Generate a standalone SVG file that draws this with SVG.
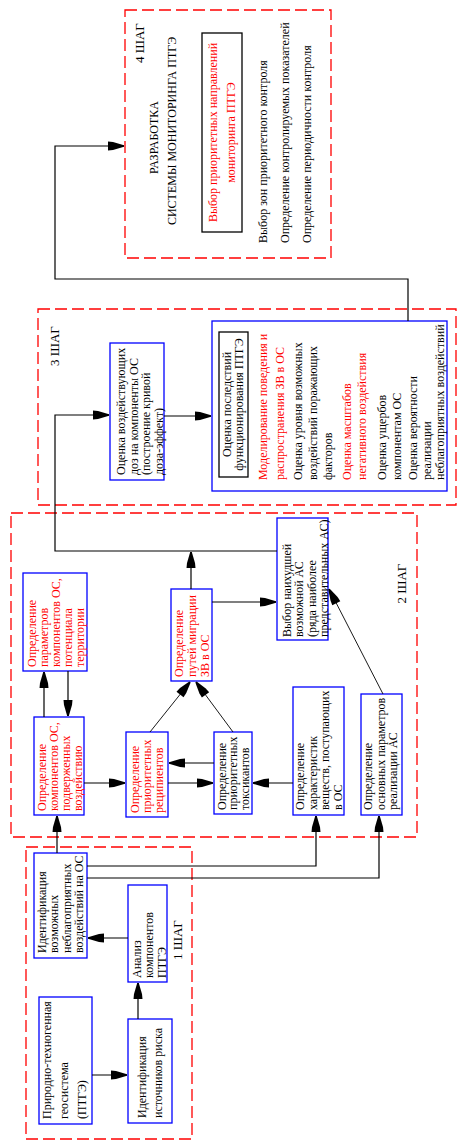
<svg xmlns="http://www.w3.org/2000/svg" width="465" height="1145" viewBox="0 0 465 1145">
<defs>
<marker id="ah" markerUnits="userSpaceOnUse" markerWidth="18" markerHeight="10" viewBox="-16 -5 17 10" refX="0" refY="0" orient="auto">
<path d="M-16,-4.5 L-11,-4 L0,-0.8 L0,0.8 L-11,4 L-16,4.5 Z" fill="#000"/>
</marker>
<style>
text{font-family:"Liberation Serif","Times New Roman",serif;font-size:12px;fill:#000}
.r{fill:#ff0000}
.m{text-anchor:middle}
.st{font-size:13px}
.step{fill:none;stroke:#ff0000;stroke-width:1.3;stroke-dasharray:12,5}
.bb{fill:#fff;stroke:#0000ff;stroke-width:1.3}
.kb{fill:#fff;stroke:#000;stroke-width:1.3}
.c{fill:none;stroke:#000;stroke-width:1.2;marker-end:url(#ah)}
.cn{fill:none;stroke:#000;stroke-width:1.2}
.ct{fill:none;stroke:#000;stroke-width:0.9;marker-end:url(#ah)}
</style>
</defs>
<rect width="465" height="1145" fill="#fff"/>

<g id="step4">
<rect class="step" x="125" y="10" width="206" height="248"/>
<text class="st m" transform="translate(144,43) rotate(-90)">4 ШАГ</text>
<text class="m" transform="translate(158,137.5) rotate(-90)">РАЗРАБОТКА</text>
<text class="m" transform="translate(176,131) rotate(-90)">СИСТЕМЫ МОНИТОРИНГА ПТГЭ</text>
<rect class="kb" x="202" y="33" width="40" height="199"/>
<text class="r m" transform="translate(217,132.5) rotate(-90)"><tspan x="0" y="0">Выбор приоритетных направлений</tspan><tspan x="0" y="18">мониторинга ПТГЭ</tspan></text>
<text transform="translate(267,243) rotate(-90)"><tspan x="0" y="0">Выбор зон приоритетного контроля</tspan><tspan x="0" y="22">Определение контролируемых показателей</tspan><tspan x="0" y="44">Определение периодичности контроля</tspan></text>
</g>

<g id="step3">
<rect class="step" x="38" y="309" width="418" height="196"/>
<text class="st m" transform="translate(59,346) rotate(-90)">3 ШАГ</text>
</g>

<g id="dose">
<rect class="bb" x="110" y="343" width="54" height="137"/>
<text transform="translate(125,475) rotate(-90)"><tspan x="0" y="0">Оценка воздействующих</tspan><tspan x="0" y="12.5">доз на компоненты ОС</tspan><tspan x="0" y="25">(построение кривой</tspan><tspan x="0" y="37.5">доза-эффект)</tspan></text>
</g>

<g id="consequences">
<rect class="bb" x="212" y="321" width="235" height="170"/>
<rect class="kb" x="219" y="332" width="29" height="145"/>
<text class="m" transform="translate(230.5,404.5) rotate(-90)"><tspan x="0" y="0">Оценка последствий</tspan><tspan x="0" y="12.5">функционирования  ПТГЭ</tspan></text>
<text class="r" transform="translate(267,480) rotate(-90)"><tspan x="0" y="0">Моделирование поведения и</tspan><tspan x="0" y="17">распространения ЗВ в ОС</tspan></text>
<text transform="translate(302,480) rotate(-90)"><tspan x="0" y="0">Оценка уровня возможных</tspan><tspan x="0" y="15">воздействий поражающих</tspan><tspan x="0" y="30">факторов</tspan></text>
<text class="r" transform="translate(350.5,480) rotate(-90)"><tspan x="0" y="0">Оценка масштабов</tspan><tspan x="0" y="15">негативного воздействия</tspan></text>
<text transform="translate(385.5,480) rotate(-90)"><tspan x="0" y="0">Оценка ущербов</tspan><tspan x="0" y="15">компонентам ОС</tspan></text>
<text transform="translate(417,480) rotate(-90)"><tspan x="0" y="0">Оценка вероятности</tspan><tspan x="0" y="13.5">реализации</tspan><tspan x="0" y="27">неблагоприятных воздействий</tspan></text>
</g>

<g id="step2">
<rect class="step" x="11" y="513" width="406" height="324"/>
<text class="st m" transform="translate(406,583.5) rotate(-90)">2 ШАГ</text>
</g>

<g id="worst">
<rect class="bb" x="277" y="518" width="51" height="122"/>
<text transform="translate(290.5,637) rotate(-90)"><tspan x="0" y="0">Выбор наихудшей</tspan><tspan x="0" y="12.5">возможной АС</tspan><tspan x="0" y="25">(ряда наиболее</tspan><tspan x="0" y="37.5">представительных АС)</tspan></text>
</g>

<g id="params">
<rect class="bb" x="23" y="573" width="64" height="98"/>
<text class="r" transform="translate(35.5,667) rotate(-90)"><tspan x="0" y="0">Определение</tspan><tspan x="0" y="12">параметров</tspan><tspan x="0" y="24">компонентов ОС,</tspan><tspan x="0" y="36">потенциала</tspan><tspan x="0" y="48">территории</tspan></text>
</g>

<g id="components">
<rect class="bb" x="34" y="717" width="50" height="98"/>
<text class="r" transform="translate(46,811) rotate(-90)"><tspan x="0" y="0">Определение</tspan><tspan x="0" y="12">компонентов ОС,</tspan><tspan x="0" y="24">подверженных</tspan><tspan x="0" y="36">воздействию</tspan></text>
</g>

<g id="recipients">
<rect class="bb" x="126" y="732" width="42" height="85"/>
<text class="r" transform="translate(139,813) rotate(-90)"><tspan x="0" y="0">Определение</tspan><tspan x="0" y="12">приоритетных</tspan><tspan x="0" y="24">реципиентов</tspan></text>
</g>

<g id="toxicants">
<rect class="bb" x="214" y="732" width="38" height="82"/>
<text transform="translate(225.5,810) rotate(-90)"><tspan x="0" y="0">Определение</tspan><tspan x="0" y="11.5">приоритетных</tspan><tspan x="0" y="23">токсикантов</tspan></text>
</g>

<g id="migration">
<rect class="bb" x="171" y="589" width="41" height="92"/>
<text class="r" transform="translate(183,677) rotate(-90)"><tspan x="0" y="0">Определение</tspan><tspan x="0" y="13">путей миграции</tspan><tspan x="0" y="26">ЗВ в ОС</tspan></text>
</g>

<g id="substances">
<rect class="bb" x="293" y="687" width="51" height="128"/>
<text transform="translate(304,810) rotate(-90)"><tspan x="0" y="0">Определение</tspan><tspan x="0" y="12.5">характеристик</tspan><tspan x="0" y="25">веществ, поступающих</tspan><tspan x="0" y="37.5">в ОС</tspan></text>
</g>

<g id="asparams">
<rect class="bb" x="361" y="694" width="41" height="121"/>
<text transform="translate(372,810) rotate(-90)"><tspan x="0" y="0">Определение</tspan><tspan x="0" y="12.5">основных параметров</tspan><tspan x="0" y="25">реализации АС</tspan></text>
</g>

<g id="step1">
<rect class="step" x="26" y="847" width="166" height="292"/>
<text class="st m" transform="translate(182,940) rotate(-90)">1 ШАГ</text>
</g>

<g id="identify-impacts">
<rect class="bb" x="34" y="853" width="53" height="105"/>
<text transform="translate(45.5,953) rotate(-90)"><tspan x="0" y="0">Идентификация</tspan><tspan x="0" y="12.5">возможных</tspan><tspan x="0" y="25">неблагоприятных</tspan><tspan x="0" y="37.5">воздействий на ОС</tspan></text>
</g>

<g id="analysis">
<rect class="bb" x="128" y="885" width="39" height="97"/>
<text transform="translate(140.5,978) rotate(-90)"><tspan x="0" y="0">Анализ</tspan><tspan x="0" y="12.5">компонентов</tspan><tspan x="0" y="25">ПТГЭ</tspan></text>
</g>

<g id="ptge">
<rect class="bb" x="39" y="997" width="53" height="127"/>
<text transform="translate(50.5,1119) rotate(-90)"><tspan x="0" y="0">Природно-техногенная</tspan><tspan x="0" y="17.5">геосистема</tspan><tspan x="0" y="35">(ПТГЭ)</tspan></text>
</g>

<g id="sources">
<rect class="bb" x="128" y="1019" width="44" height="104"/>
<text transform="translate(145.5,1118) rotate(-90)"><tspan x="0" y="0">Идентификация</tspan><tspan x="0" y="16">источников риска</tspan></text>
</g>

<g id="connectors">
<path class="c" d="M408,321 V279 H55 V146 H124"/>
<path class="c" d="M277,551 H55 V415 H109"/>
<path class="c" d="M191,589 V552"/>
<path class="c" d="M164,416 H211"/>
<path class="c" d="M44,717 V672"/>
<path class="c" d="M68,671 V716"/>
<path class="c" d="M84,783 H125"/>
<path class="c" d="M214,763 H169"/>
<path class="c" d="M168,783 H213"/>
<path class="c" d="M293,783 H253"/>
<path class="ct" d="M150,732 L190,682"/>
<path class="ct" d="M233,732 L196,682"/>
<path class="c" d="M212,602 H276"/>
<path class="ct" d="M383,694 L329,589"/>
<path class="c" d="M57,853 V816"/>
<path class="c" d="M87,866 H316 V816"/>
<path class="c" d="M87,878 H379 V816"/>
<path class="c" d="M128,938 H88"/>
<path class="c" d="M92,1075 H127"/>
<path class="c" d="M138,1019 V983"/>
</g>
</svg>
